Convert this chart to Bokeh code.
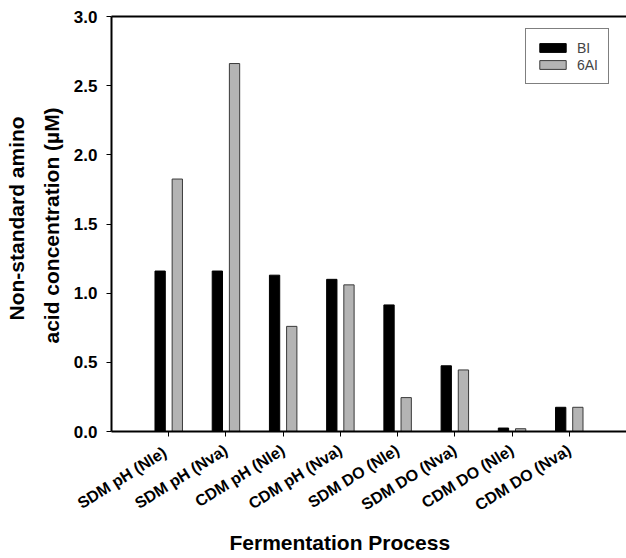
import math
from bokeh.plotting import figure
from bokeh.models import (ColumnDataSource, FixedTicker, LinearAxis, Legend, Title,
                          LegendItem, Range1d, NumeralTickFormatter)
from bokeh.transform import dodge
from bokeh.embed import file_html
from bokeh.resources import INLINE

# ---- data ----
categories = ["SDM  pH (Nle)", "SDM pH (Nva)", "CDM pH (Nle)", "CDM pH (Nva)",
              "SDM DO (Nle)", "SDM DO (Nva)", "CDM DO (Nle)", "CDM DO (Nva)"]
bi_values = [1.16, 1.16, 1.13, 1.10, 0.915, 0.475, 0.025, 0.175]
ai6_values = [1.825, 2.66, 0.76, 1.06, 0.245, 0.445, 0.02, 0.175]
series_names = ["BI", "6AI"]
y_ticks = [0.0, 0.5, 1.0, 1.5, 2.0, 2.5, 3.0]
x_title = "Fermentation Process"
y_title = ["Non-standard amino", "acid concentration (\u00b5M)"]

FONT = "Liberation Sans"
positions = list(range(1, len(categories) + 1))
src = ColumnDataSource(dict(x=positions, bi=bi_values, ai=ai6_values))

W, H = 626, 558
FL, FT, FB = 111, 16, 431          # frame left / top / bottom in pixels

p = figure(width=W, height=H, output_backend="svg", toolbar_location=None,
           x_range=Range1d(0, 9.0), y_range=Range1d(0, 3.0),
           min_border_left=FL, min_border_right=0, min_border_top=FT,
           min_border_bottom=H - FB, outline_line_color=None)
p.xgrid.visible = False
p.ygrid.visible = False

r1 = p.vbar(x=dodge("x", -0.15), top="bi", width=0.18, source=src,
            fill_color="black", line_color="black", line_width=1)
r2 = p.vbar(x=dodge("x", 0.15), top="ai", width=0.18, source=src,
            fill_color="#b4b4b4", line_color="#3a3a3a", line_width=1)

# x axis
xa = p.xaxis[0]
xa.ticker = FixedTicker(ticks=positions)
xa.major_label_overrides = {pos: c for pos, c in zip(positions, categories)}
xa.major_label_orientation = 0.56
xa.axis_line_width = 2
xa.major_tick_out = 5
xa.major_tick_in = 0
xa.minor_tick_out = 0
xa.minor_tick_in = 0
xa.major_label_standoff = 12
xa.major_label_text_font = FONT
xa.major_label_text_font_style = "bold"
xa.major_label_text_font_size = "16px"
xa.major_label_text_color = "black"

# y axis
ya = p.yaxis[0]
ya.ticker = FixedTicker(ticks=y_ticks)
ya.formatter = NumeralTickFormatter(format="0.0")
ya.axis_line_width = 2
ya.major_tick_out = 5
ya.major_tick_in = 0
ya.minor_tick_out = 0
ya.minor_tick_in = 0
ya.major_label_standoff = 9
ya.major_label_text_font = FONT
ya.major_label_text_font_style = "bold"
ya.major_label_text_font_size = "17px"
ya.major_label_text_color = "black"

# top border line
top = LinearAxis(ticker=FixedTicker(ticks=[]), axis_line_width=2,
                 major_tick_out=0, major_tick_in=0, minor_tick_out=0, minor_tick_in=0,
                 major_label_text_font_size="0px", major_label_standoff=0)
p.add_layout(top, "above")

# legend
legend = Legend(items=[LegendItem(label=series_names[0], renderers=[r1]),
                       LegendItem(label=series_names[1], renderers=[r2])],
                location=(414, 347), border_line_color="black", border_line_width=1,
                padding=10, spacing=0, glyph_width=33, glyph_height=11,
                label_height=17, label_standoff=8, margin=0,
                label_text_font=FONT, label_text_font_size="14px")
p.add_layout(legend)

# axis titles as side-panel titles
p.add_layout(Title(text=x_title, align="left", offset=229 - FL, standoff=10,
                   text_font=FONT, text_font_style="bold", text_font_size="21px",
                   text_color="black"), "below")
p.add_layout(Title(text=y_title[1], align="left", offset=FB - 343, standoff=16,
                   text_font=FONT, text_font_style="bold", text_font_size="21px",
                   text_color="black"), "left")
p.add_layout(Title(text=y_title[0], align="left", offset=FB - 320, standoff=4,
                   text_font=FONT, text_font_style="bold", text_font_size="21px",
                   text_color="black"), "left")

open("out.html", "w").write(file_html(p, INLINE))
